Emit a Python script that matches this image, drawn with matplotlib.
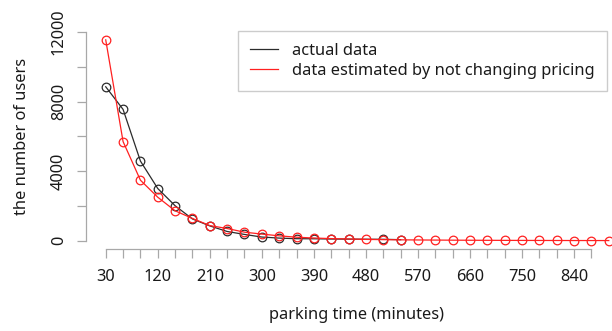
import matplotlib
matplotlib.use("Agg")
import matplotlib.pyplot as plt
import numpy as np

# ---- data ----
x_actual = [30, 60, 90, 120, 150, 180, 210, 240, 270, 300, 330, 360, 390, 420, 450, 510, 540]
actual = [8850, 7550, 4580, 3000, 2010, 1250, 850, 530, 360, 210, 150, 115, 110, 95, 90, 80, 60]

x_est = list(range(30, 901, 30))
estimated = [11550, 5700, 3480, 2500, 1720, 1280, 870, 700, 490, 380, 280, 200, 155, 120, 100,
             75, 60, 50, 42, 36, 30, 26, 22, 19, 16, 14, 12, 10, 9, 8]

x_ticks = list(range(30, 871, 30))
x_tick_labels = [str(v) if (v - 30) % 90 == 0 else "" for v in x_ticks]
y_ticks = list(range(0, 12001, 2000))
y_tick_labels = [str(v) if v % 4000 == 0 else "" for v in y_ticks]

labels = ["actual data", "data estimated by not changing pricing"]
xlabel = "parking time (minutes)"
ylabel = "the number of users"

# ---- style ----
plt.rcParams['font.family'] = ['Noto Sans', 'DejaVu Sans']
FS = 11.8
TXT = "#1a1a1a"
AX = "#a8a8a8"

W, H = 612, 331
fig = plt.figure(figsize=(W / 100, H / 100), dpi=100)
L, R, T, B = 85.6, 628.9, 31.25, 248.75
ax = fig.add_axes([L / W, 1 - B / H, (R - L) / W, (B - T) / H])
ax.set_xlim(-4.8, 934.8)
ax.set_ylim(-463, 12043)

ax.plot(x_actual, actual, color="#2b2b2b", lw=0.9, marker="o", ms=6.2,
        mfc="none", mec="#2b2b2b", mew=0.9, label=labels[0], clip_on=False)
ax.plot(x_est, estimated, color="#ff2020", lw=0.9, marker="o", ms=6.2,
        mfc="none", mec="#ff2020", mew=0.9, label=labels[1], clip_on=False)

for s in ["top", "right"]:
    ax.spines[s].set_visible(False)
ax.spines["left"].set_bounds(0, 12000)
ax.spines["bottom"].set_bounds(30, 870)
for s in ["left", "bottom"]:
    ax.spines[s].set_color(AX)
    ax.spines[s].set_linewidth(0.9)

ax.set_xticks(x_ticks)
ax.set_xticklabels(x_tick_labels)
ax.set_yticks(y_ticks)
ax.set_yticklabels(y_tick_labels, rotation=90, va="center")
ax.tick_params(axis="both", direction="out", length=6.5, width=0.9, color=AX,
               labelsize=FS, labelcolor=TXT)
ax.tick_params(axis="x", pad=8)
ax.tick_params(axis="y", pad=7)

fig.text(356.7 / W, 1 - 314.7 / H, xlabel, ha="center", va="center", fontsize=FS, color=TXT)
fig.text(21.6 / W, 1 - 136 / H, ylabel, ha="center", va="center", rotation=90,
         fontsize=FS, color=TXT)

from matplotlib.lines import Line2D
handles = [Line2D([], [], color="#2b2b2b", lw=0.9), Line2D([], [], color="#ff2020", lw=0.9)]
leg = ax.legend(handles, labels, loc="upper right", bbox_to_anchor=(606.7 / W, 1 - 31 / H),
                bbox_transform=fig.transFigure, borderaxespad=0, fontsize=FS,
                frameon=True, fancybox=False, edgecolor="#cccccc", framealpha=1,
                handlelength=1.73, handletextpad=0.87, borderpad=0.72, labelspacing=0.25)
leg.get_frame().set_linewidth(1.0)
for t in leg.get_texts():
    t.set_color(TXT)

fig.savefig("out.png", dpi=100)
